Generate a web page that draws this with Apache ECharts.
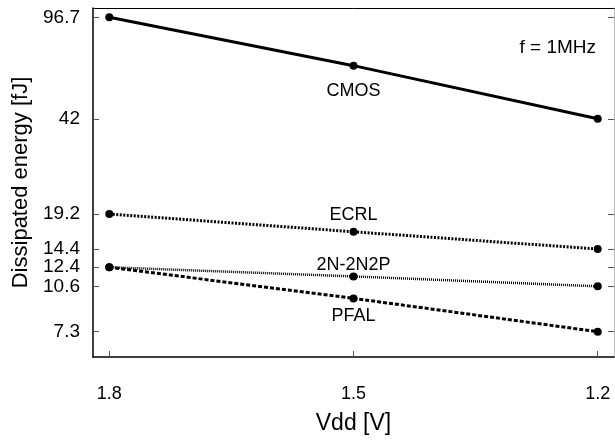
<!DOCTYPE html>
<html>
<head>
<meta charset="utf-8">
<script src="https://cdn.jsdelivr.net/npm/echarts@6/dist/echarts.min.js"></script>
<style>
  html, body { margin: 0; padding: 0; background: #fff; }
  #chart { width: 615px; height: 442px; }
</style>
</head>
<body>
<div id="chart"></div>
<script>
// supply voltage (x axis, shown high to low)
var vdd = [1.8, 1.5, 1.2];
var yTicks = [7.3, 10.6, 12.4, 14.4, 19.2, 42, 96.7];

// dissipated energy per logic family [fJ]
var cmos = [96.7, 65.0, 42];
var ecrl = [19.2, 16.6, 14.4];
var n2n2p = [12.4, 11.5, 10.6];
var pfal = [12.4, 9.6, 7.3];

var font = "'Liberation Sans', Arial, Helvetica, sans-serif";

function makeSeries(name, vals, lineType, width, labelPos, labelOffset) {
  return {
    name: name,
    type: "line",
    symbol: "circle",
    symbolSize: 8,
    itemStyle: { color: "#000" },
    lineStyle: { color: "#000", width: width, type: lineType },
    data: vdd.map(function (v, i) {
      var item = { value: [v, vals[i]] };
      if (i === 1) {
        item.label = {
          show: true,
          position: labelPos,
          offset: labelOffset,
          formatter: name,
          color: "#000",
          fontSize: 18,
          fontFamily: font
        };
      }
      return item;
    })
  };
}

var myChart = echarts.init(document.getElementById("chart"));
myChart.setOption({
  animation: false,
  backgroundColor: "#fff",
  title: {
    text: "f = 1MHz",
    right: 14,
    top: 33,
    textStyle: { color: "#000", fontSize: 19, fontWeight: "normal", fontFamily: font }
  },
  grid: { left: 93, right: 1, top: 8, bottom: 85 },
  xAxis: [
    {
      type: "value",
      inverse: true,
      min: 1.18,
      max: 1.82,
      name: "Vdd [V]",
      nameLocation: "middle",
      nameGap: 55,
      nameTextStyle: { color: "#000", fontSize: 23, fontFamily: font },
      axisLine: { show: true, onZero: false, lineStyle: { color: "#000", width: 1.5 } },
      axisTick: { show: true, inside: true, length: 6, customValues: vdd, lineStyle: { color: "#555" } },
      axisLabel: { customValues: vdd, color: "#000", fontSize: 18, fontFamily: font, margin: 28 },
      splitLine: { show: false }
    },
    {
      type: "value",
      position: "top",
      min: 1.18,
      max: 1.82,
      axisLine: { show: true, lineStyle: { color: "#000", width: 1 } },
      axisTick: { show: false },
      axisLabel: { show: false },
      splitLine: { show: false }
    }
  ],
  yAxis: [
    {
      type: "log",
      logBase: 10,
      min: 5.93,
      max: 104.4,
      name: "Dissipated energy [fJ]",
      nameLocation: "middle",
      nameGap: 58,
      nameTextStyle: { color: "#000", fontSize: 22, fontFamily: font },
      axisLine: { show: true, lineStyle: { color: "#000", width: 1.5 } },
      axisTick: { show: true, inside: true, length: 6, customValues: yTicks, lineStyle: { color: "#555" } },
      axisLabel: { customValues: yTicks, color: "#000", fontSize: 19, fontFamily: font, margin: 13 },
      splitLine: { show: false }
    },
    {
      type: "log",
      logBase: 10,
      position: "right",
      min: 5.93,
      max: 104.4,
      axisLine: { show: true, lineStyle: { color: "#bbb", width: 1 } },
      axisTick: { show: true, inside: true, length: 6, customValues: yTicks, lineStyle: { color: "#555" } },
      axisLabel: { show: false },
      splitLine: { show: false }
    }
  ],
  series: [
    makeSeries("CMOS", cmos, "solid", 3, "bottom", [0, 7]),
    makeSeries("ECRL", ecrl, [2, 1.5], 3, "top", [0, 1.5]),
    makeSeries("2N-2N2P", n2n2p, [1, 1], 2.5, "top", [0, 7]),
    makeSeries("PFAL", pfal, [4, 2], 3, "bottom", [0, 0])
  ]
});
</script>
</body>
</html>
